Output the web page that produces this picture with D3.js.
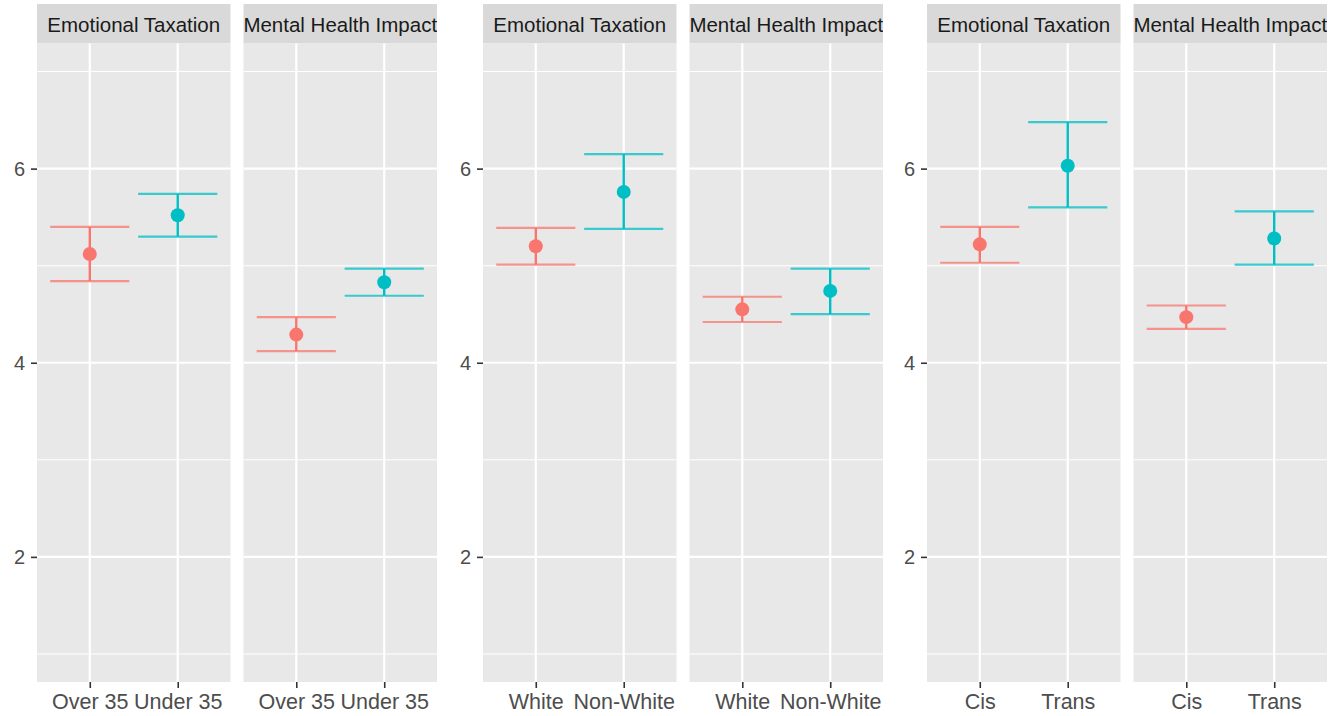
<!DOCTYPE html>
<html>
<head>
<meta charset="utf-8">
<script src="https://cdn.jsdelivr.net/npm/d3@7"></script>
<style>
  body { margin: 0; background: #fff; }
  text { font-family: "Liberation Sans", Arial, Helvetica, sans-serif; }
</style>
</head>
<body>
<div id="chart"></div>
<script>
// facet strips, two per group
const facets = ["Emotional Taxation", "Mental Health Impact"];

// each comparison group: its two categories
const groupCats = [
  ["Over 35", "Under 35"],
  ["White", "Non-White"],
  ["Cis", "Trans"]
];

// mean, lower, upper per group -> facet -> category
const means = [
  [[5.12, 5.52], [4.29, 4.83]],
  [[5.20, 5.76], [4.55, 4.74]],
  [[5.22, 6.03], [4.47, 5.28]]
];
const lowers = [
  [[4.84, 5.30], [4.12, 4.69]],
  [[5.01, 5.38], [4.42, 4.50]],
  [[5.03, 5.60], [4.35, 5.01]]
];
const uppers = [
  [[5.40, 5.74], [4.47, 4.97]],
  [[5.39, 6.15], [4.68, 4.97]],
  [[5.40, 6.48], [4.59, 5.56]]
];

const yMajor = [2, 4, 6];
const yMinor = [1, 3, 5, 7];
const catColors = ["#F8766D", "#00BFC4"];

let width = 1332, height = 716;
const groupX = [37, 483, 927];
const panelW = 193.5, panelGap = 13;
const stripTop = 4, panelTop = 43.5, panelBottom = 682;

const svg = d3.select("#chart")
  .append("svg")
  .attr("width", width)
  .attr("height", height);

const y = d3.scaleLinear()
  .domain([0.711, 7.289])
  .range([panelBottom, panelTop]);

groupCats.forEach((cats, g) => {
  // y axis for the group
  const yAxis = svg.append("g")
    .attr("transform", `translate(${groupX[g]},0)`)
    .call(d3.axisLeft(y).tickValues(yMajor).tickSize(6).tickPadding(6).tickFormat(d3.format("d")));
  yAxis.select(".domain").remove();
  yAxis.selectAll(".tick line").attr("stroke", "#333").attr("stroke-width", 1.6);
  yAxis.selectAll(".tick text")
    .attr("fill", "#4D4D4D")
    .style("font-size", "20px");

  facets.forEach((f, fi) => {
    const px = groupX[g] + fi * (panelW + panelGap);
    const x = d3.scalePoint()
      .domain(cats)
      .range([px, px + panelW])
      .padding(0.6); // ggplot's 0.6 discrete expansion on each side

    const clipId = `clip-${g}-${fi}`;
    svg.append("clipPath").attr("id", clipId)
      .append("rect")
      .attr("x", px).attr("y", stripTop)
      .attr("width", panelW).attr("height", panelTop - stripTop);

    // strip
    svg.append("rect")
      .attr("x", px).attr("y", stripTop)
      .attr("width", panelW).attr("height", panelTop - stripTop)
      .attr("fill", "#D9D9D9");
    svg.append("text")
      .attr("clip-path", `url(#${clipId})`)
      .attr("x", px + panelW / 2)
      .attr("y", (stripTop + panelTop) / 2 + 1)
      .attr("dy", "0.36em")
      .attr("text-anchor", "middle")
      .attr("fill", "#1A1A1A")
      .style("font-size", "20.5px")
      .text(f);

    // panel background
    svg.append("rect")
      .attr("x", px).attr("y", panelTop)
      .attr("width", panelW).attr("height", panelBottom - panelTop)
      .attr("fill", "#E8E8E8");

    const grid = svg.append("g");
    grid.selectAll("line.minor")
      .data(yMinor)
      .join("line")
      .attr("x1", px).attr("x2", px + panelW)
      .attr("y1", d => y(d)).attr("y2", d => y(d))
      .attr("stroke", "#fff").attr("stroke-width", 1.1);
    grid.selectAll("line.major")
      .data(yMajor)
      .join("line")
      .attr("x1", px).attr("x2", px + panelW)
      .attr("y1", d => y(d)).attr("y2", d => y(d))
      .attr("stroke", "#fff").attr("stroke-width", 2.2);
    grid.selectAll("line.vmajor")
      .data(cats)
      .join("line")
      .attr("x1", d => x(d)).attr("x2", d => x(d))
      .attr("y1", panelTop).attr("y2", panelBottom)
      .attr("stroke", "#fff").attr("stroke-width", 2.2);

    // x axis
    const xAxis = svg.append("g")
      .attr("transform", `translate(0,${panelBottom})`)
      .call(d3.axisBottom(x).tickSize(6).tickPadding(6));
    xAxis.select(".domain").remove();
    xAxis.selectAll(".tick line").attr("stroke", "#333").attr("stroke-width", 1.6);
    xAxis.selectAll(".tick text")
      .attr("fill", "#4D4D4D")
      .style("font-size", "21.5px");

    // error bars and points
    const rows = cats.map((c, ci) => ({
      cat: c,
      ci: ci,
      mean: means[g][fi][ci],
      lo: lowers[g][fi][ci],
      hi: uppers[g][fi][ci]
    }));
    const capW = x.step() * 0.9;

    const marks = svg.append("g");
    marks.selectAll("line.cap-hi")
      .data(rows)
      .join("line")
      .attr("x1", d => x(d.cat) - capW / 2).attr("x2", d => x(d.cat) + capW / 2)
      .attr("y1", d => y(d.hi)).attr("y2", d => y(d.hi))
      .attr("stroke", d => catColors[d.ci]).attr("stroke-width", 2.2).attr("opacity", 0.75);
    marks.selectAll("line.cap-lo")
      .data(rows)
      .join("line")
      .attr("x1", d => x(d.cat) - capW / 2).attr("x2", d => x(d.cat) + capW / 2)
      .attr("y1", d => y(d.lo)).attr("y2", d => y(d.lo))
      .attr("stroke", d => catColors[d.ci]).attr("stroke-width", 2.2).attr("opacity", 0.75);
    marks.selectAll("line.stem")
      .data(rows)
      .join("line")
      .attr("x1", d => x(d.cat)).attr("x2", d => x(d.cat))
      .attr("y1", d => y(d.lo)).attr("y2", d => y(d.hi))
      .attr("stroke", d => catColors[d.ci]).attr("stroke-width", 2.4);
    marks.selectAll("circle")
      .data(rows)
      .join("circle")
      .attr("cx", d => x(d.cat))
      .attr("cy", d => y(d.mean))
      .attr("r", 7)
      .attr("fill", d => catColors[d.ci]);
  });
});
</script>
</body>
</html>
